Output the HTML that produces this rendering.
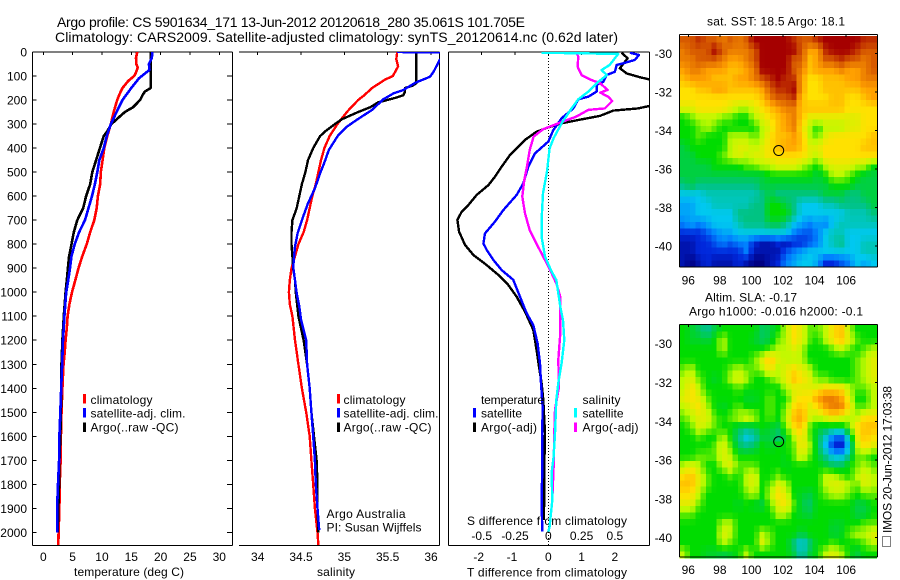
<!DOCTYPE html>
<html>
<head>
<meta charset="utf-8">
<title>Argo profile</title>
<style>
html,body{margin:0;padding:0;background:#fff;}
svg{display:block;}
text{font-family:"Liberation Sans",sans-serif;font-size:12px;fill:#000;}
</style>
</head>
<body>
<svg id="fig" xmlns="http://www.w3.org/2000/svg" width="900" height="580" viewBox="0 0 900 580">
<defs>
<clipPath id="clip-t"><rect x="32" y="52" width="200" height="493"/></clipPath>
<clipPath id="clip-s"><rect x="239" y="52" width="201" height="493"/></clipPath>
<clipPath id="clip-d"><rect x="448" y="52" width="202" height="493"/></clipPath>
</defs>
<text x="57" y="27" style="font-size:14px" textLength="468" lengthAdjust="spacing">Argo profile: CS 5901634_171 13-Jun-2012 20120618_280 35.061S 101.705E</text>
<text x="55" y="42" style="font-size:14px" textLength="563" lengthAdjust="spacing">Climatology: CARS2009. Satellite-adjusted climatology: synTS_20120614.nc (0.62d later)</text>
<text x="707" y="25.5" textLength="138">sat. SST: 18.5 Argo: 18.1</text>
<text x="705" y="301.5" textLength="92">Altim. SLA: -0.17</text>
<text x="689" y="315.5" textLength="174">Argo h1000: -0.016 h2000: -0.1</text>
<text x="74" y="576" textLength="110">temperature (deg C)</text>
<text x="317" y="576" textLength="38">salinity</text>
<text x="467" y="576.5" textLength="160">T difference from climatology</text>
<text x="467" y="525" textLength="160">S difference from climatology</text>
<text x="326.5" y="518" textLength="79">Argo Australia</text>
<text x="326.5" y="531.5" textLength="95">PI: Susan Wijffels</text>
<text x="0" y="0" transform="translate(891.5,533) rotate(-90)" textLength="147">IMOS 20-Jun-2012 17:03:38</text>
<rect x="882.5" y="536.5" width="8" height="10" fill="none" stroke="#000" stroke-width="1" stroke-dasharray="1 1"/>
</svg>
<script>
const depthTicks = [0,100,200,300,400,500,600,700,800,900,1000,1100,1200,1300,1400,1500,1600,1700,1800,1900,2000];
const tempTicks = [0,5,10,15,20,25,30];
const salTicks = [34,34.5,35,35.5,36];
const salTickLabels = ['34','34.5','35','35.5','36'];
const tDiffTicks = [-2,-1,0,1,2];
const sDiffTicks = [-0.5,-0.25,0,0.25,0.5];
const lonTicks = [96,98,100,102,104,106];
const latTicks = [30,32,34,36,38,40];

const tClimDepth = [0,25,50,65,85,100,120,150,175,200,250,300,350,400,450,500,550,600,650,700,750,800,850,900,950,1000,1050,1100,1150,1200,1250,1300,1400,1500,1600,1700,1800,1900,2000,2055];
const tClimValue = [16,15.8,15.85,16.1,15.8,15.5,14.5,13.5,13,12.6,12,11.5,10.9,10.4,10.1,9.8,9.7,9.3,9.1,8.7,8,7.4,6.65,6,5.45,4.9,4.45,4.15,4,3.8,3.65,3.45,3.25,3.1,3,2.95,2.8,2.75,2.6,2.55];
const tArgoDepth = [0,150,165,180,200,230,250,280,300,330,350,400,450,500,550,600,650,700,750,800,850,900,950,1000,1100,1200,1300,1400,1500,1600,1700,1800,1900,2000];
const tArgoValue = [18.3,18.3,17.3,16.9,16.5,15.3,13.9,12.5,11.6,10.9,10.3,9.65,9,8.35,8,7.3,6.8,5.8,5.2,4.8,4.4,4.2,4,3.8,3.5,3.25,3.1,3.05,3,2.9,2.75,2.7,2.55,2.45];
const tSatDepth = [0,25,50,75,90,110,150,180,200,250,300,350,400,450,500,550,600,650,700,750,800,850,900,950,1000,1100,1200,1300,1400,1500,1600,1700,1800,1900,2000];
const tSatValue = [18.6,18.5,18,18.1,17.3,16.3,15,14.1,13.5,12.5,11.5,10.8,10.3,9.55,9.2,8.8,8.3,7.7,7.1,6.1,5.35,4.8,4.55,4.25,3.9,3.6,3.35,3.2,3.05,2.9,2.75,2.7,2.5,2.35,2.35];

const sClimDepth = [0,30,60,80,100,115,150,180,200,230,250,300,350,400,450,500,550,600,650,700,750,800,850,900,950,1000,1050,1100,1200,1300,1400,1500,1600,1700,1800,1900,2000,2055];
const sClimValue = [35.61,35.6,35.62,35.59,35.56,35.47,35.32,35.23,35.16,35.08,35.03,34.92,34.83,34.77,34.73,34.7,34.67,34.63,34.6,34.57,34.53,34.47,34.43,34.39,34.37,34.36,34.37,34.4,34.43,34.47,34.51,34.56,34.6,34.62,34.64,34.66,34.69,34.7];
const sArgoDepth = [0,130,140,150,165,180,190,210,230,250,280,300,330,350,400,450,500,550,600,650,700,750,800,850,900,950,1000,1100,1200,1300,1400,1500,1600,1700,1800,1900,2000];
const sArgoValue = [35.83,35.83,35.79,35.7,35.7,35.68,35.6,35.39,35.3,35.16,34.97,34.89,34.78,34.72,34.64,34.58,34.55,34.51,34.48,34.45,34.4,34.39,34.39,34.4,34.41,34.43,34.44,34.47,34.53,34.57,34.6,34.62,34.65,34.68,34.69,34.69,34.7];
const sSatDepth = [0,3,20,33,82,103,128,158,172,197,241,283,311,346,408,450,505,568,630,700,755,810,894,950,1005,1060,1113,1200,1300,1400,1500,1600,1700,1800,1900,1990];
const sSatValue = [35.61,36.4,36.3,36.1,36.03,35.99,35.82,35.68,35.57,35.45,35.32,35.14,35.03,34.93,34.82,34.78,34.72,34.66,34.58,34.51,34.46,34.43,34.41,34.43,34.45,34.48,34.5,34.56,34.57,34.6,34.62,34.64,34.66,34.67,34.69,34.71];

const dTArgoDepth = [3,26,68,89,105,114,172,225,235,244,266,283,297,314,332,366,394,429,477,519,554,595,637,665,699,748,803,845,887,928,970,1019,1081,1157,1241,1310,1379,1449,1588,1726,1865,1948];
const dTArgoValue = [2.2,2.38,2.15,2.35,2.75,3.03,3.7,3.03,2.7,1.95,1.55,0.9,0.4,0,-0.35,-0.7,-0.9,-1.15,-1.4,-1.6,-1.8,-2.15,-2.4,-2.6,-2.73,-2.68,-2.5,-2.25,-1.85,-1.5,-1.2,-0.95,-0.7,-0.45,-0.35,-0.28,-0.2,-0.15,-0.1,-0.12,-0.12,-0.14];
const dTSatDepth = [3,12,33,47,54,82,96,124,137,165,186,197,235,276,325,373,422,477,547,595,658,706,755,797,824,866,908,949,1019,1088,1137,1213,1296,1379,1477,1588,1726,1865,1997];
const dTSatValue = [2.45,2.72,2.6,2.25,2.05,2,1.75,1.65,1.45,1.45,1.2,0.9,0.75,0.4,0.15,0,-0.4,-0.6,-0.75,-0.95,-1.35,-1.6,-1.9,-1.95,-1.85,-1.65,-1.4,-1.05,-0.85,-0.65,-0.45,-0.32,-0.25,-0.22,-0.17,-0.18,-0.18,-0.2,-0.18];
const dSArgoDepth = [3,19,61,96,117,130,158,169,186,204,235,241,269,297,322,352,408,477,533,602,672,741,797,866,921,963,1019,1171,1282,1393,1490,1588,1726,1865,1976];
const dSArgoValue = [0.21,0.225,0.22,0.25,0.325,0.39,0.445,0.39,0.45,0.48,0.425,0.3,0.21,0.075,-0.04,-0.11,-0.14,-0.16,-0.18,-0.195,-0.175,-0.14,-0.09,-0.025,0.025,0.06,0.09,0.09,0.075,0.08,0.05,0.045,0.04,0.03,0.01];
const dSSatDepth = [3,8,33,54,75,96,124,165,197,235,297,359,401,498,588,699,769,852,914,949,1060,1116,1199,1296,1379,1449,1588,1685,1754,1865,1976,1997];
const dSSatValue = [-0.05,0.525,0.49,0.46,0.4,0.44,0.375,0.3,0.225,0.175,0.1,0.04,0.01,-0.01,-0.04,-0.05,-0.05,-0.025,0.025,0.06,0.09,0.11,0.12,0.1,0.075,0.06,0.05,0.04,0.025,0.03,0.01,0];

const sstRows = [
[9,9,9.5,9,9,8.5,9,8.5,9,10,10,10,10,10,9.5,9,9,9.5,10,10,10,10,10,9.5,9.5],
[8.5,9,9,9,10,9,8.5,8.5,8.5,9,10,10,10,10,10,9,8,8,9.5,10,10,10,9.5,9,9],
[8.5,8.5,9,9,9,8.5,8,8,8.5,9,10,10,10,10,9,9,7.5,8,9,9,9.5,9,9,8.5,9],
[8,8.5,8.5,8,8,8,7.5,7.5,8,8.5,10,10,10,10,9,8.5,7.5,8,8,8,8.5,8,8,8.5,9],
[7.5,8,8,8,7.5,7.5,7.5,8,8,8.5,9,9.5,10,9.5,9.5,8,7,7,7.5,7.5,7.5,8,8,8.5,8.5],
[7,7,7.5,7.5,8,8,7.5,7.5,7.5,7.5,8,9,9.5,9.5,10,8,7,7,7.5,7.5,7.5,7.5,7.5,8,8],
[7,7,7,7,7,7,7,7,7,7,7.5,8.5,9,9,9.5,7.5,7,7,7,7.5,7.5,7,7,7.5,8],
[6.5,6.5,7,7,7,7,6.5,6,6,6.5,7,7.5,8,8.5,8.5,7.5,7.5,7.5,7.5,7.5,7.5,7,7,7,7],
[5,5.5,6,6,6,5.5,5.5,5,5,6,6.5,7,7.5,8,8.5,7.5,6.5,6.5,6.5,6.5,6.5,6.5,6.5,7,7],
[5,5,5.5,6,5.5,5,5,5,5,5,6,6.5,7.5,8,8.5,7,6,5,6,6,6,6.5,6.5,7,7],
[5,5,5.5,5,5,5,6,6,6,5.5,6,7,7.5,7.5,8,7.5,6,5.5,6.5,7,7,7,7,7,7.5],
[4.5,5,5,5,5,5,6,6.5,6.5,6,6.5,7,7.5,8,8,7.5,6.5,6.5,7,7,7,7,7,7.5,7.5],
[4.5,4.5,5,5,5,5.5,6,6.5,6,6.5,6.5,7,7,7,7,7,6.5,6,7,7,7,7,7,7,7],
[4.5,4.5,4.5,4.5,5,5,5,5,5.5,5.5,6,6,6.5,6.5,6.5,6,5.5,5,6,6.5,6.5,6.5,6,6,5],
[4.5,4.5,4.5,4.5,4.5,4.5,4.5,4.5,4.5,4.5,4.5,5,5,5,5,5,5,4.5,5,6,6,5.5,5,4.5,4.5],
[4,4.5,4,4,4,4,4,4,4,4,4.5,4.5,4.5,4.5,4.5,4.5,4.5,4.5,4.5,5,5,5,4.5,4.5,4.5],
[3,3,3,3.5,3.5,3.5,3.5,3.5,3.5,3.5,4,4.5,4,4,4,4,4,4,4.5,4.5,4.5,4,4,4.5,4.5],
[2.5,2.5,3,3,3.5,3.5,3.5,3.5,3.5,4,4,5,5,4.5,4,3,3,3,3.5,3.5,4,4,4,4,4.5],
[2.5,2.5,3,3,3,3,3,4,4,4,4,5,5,5,4,3,3,3,3,3,3,3.5,3.5,3.5,4],
[2,2.5,2,2.5,3,3,3,3.5,4,4,4,4.5,4.5,4,3,2.5,2,2.5,2,3,3.5,3.5,3.5,3.5,3.5],
[1,1,1,1.5,2,2.5,2.5,3,3,3,3,3,3,3,2,1.5,1.5,2,3,3.5,3.5,3,3,3,3],
[0.5,0.5,1,1,1.5,2,1.5,2,2,1,0.5,0.5,1,0.5,1,1,1.5,2,3,3.5,4,3,3,3.5,3.5],
[0.5,0.5,1,1,1,1,1,1,2,0.5,0.5,0.5,0.5,1.5,2,2.5,3,3,3,3,3,3,3,3.5,3.5],
[0.5,0,0.5,1,0.5,0.5,0.5,1,0.5,0,0,0.5,1,2,2.5,3,3,2.5,1,1,1.5,2,3,2.5,3]
];
const slaRows = [
[5,4.7,4.3,3.8,4.5,5,5,5,5,5,4.3,4.5,5,6,7,6.5,5.5,5.5,6,7,7.5,6,5,5,5],
[5,4.7,4.7,4.5,5,6,5,5,5,4.7,4.3,4.5,5.5,6,7,6.5,5.5,5,6,7,7.5,6.5,5.5,5,5],
[5,5,5,5,5,6,5,5,5,5,5,5.5,6,6,6.5,6,5,5,5,5.5,6,5.5,5,5.5,6],
[5,5,5,5,5,5,5,5,5,5.5,6.5,7.5,6.5,6,6,6,5,5,5,5,5,5,5.5,6,6.5],
[5.5,6,5,5,5,5,5.5,6,5.5,5.5,6,7,6,6.5,7,6.5,6,5,5,5,5,5,5.5,6,6.5],
[6,6.5,5.5,5,4.7,5,6,6.5,6,5,5,5.5,6,6.5,7.5,7,6.5,5.5,5.5,5,5,5,5.5,6,6.5],
[6,7,6,5,5,5,5,5.5,5,5,5,5,5,6,6.5,6.5,6.5,6.5,7,7,7,6,5.5,5.5,6],
[6.5,7,6.5,5.5,5,5,5,5,4.7,4.7,5,5.5,5,5,6.5,7,7,8,8.5,8.5,8,6.5,5,5,6],
[6,6.5,7,6,5,4.7,5,5.5,5,5,5,5.5,5,5.5,7,7.5,6.5,7,8,8.5,8.5,7,5.5,5.5,6],
[5.5,6,6.5,6.5,5.5,5,5.5,6,6.5,6,5,5.5,5,6,7.5,8,6.5,6,6.5,7,6.5,6,6,7,7],
[5,5.5,6.5,6,5.5,5,5,4.5,4.3,4.5,5,4.7,4.5,5.5,7,7.5,5.5,4.7,4.7,4.7,4.7,5.5,7,7.5,7.5],
[5,5,5.5,5,5,6,5,4,3,3.5,4.5,4.5,4,4.7,6,7,5.5,4.5,3.5,2,1.5,4,6.5,7.5,7],
[5,5,5,5,5.5,6.5,5.5,4.3,4,4.3,5,4.7,5,5,5.5,7,6,4.5,3,1,0.5,3,6,7,6.5],
[5,5,5.5,5.5,5.5,6.5,6,5,5,5,5,5,5,4.8,5.5,6.5,5.5,4.7,4,3,3,4,5.5,5.5,5],
[6,6.5,6,5,5,6,6.5,5.5,5.5,5.5,5,5,5,4.8,5,5,5,5,4.7,4.3,4.3,5,5.5,6,5.5],
[7,7.5,6.5,5.5,5,5,5.5,5,6,6.5,5,5,5.5,5,5,5,5,5,6,6,5.5,5,6,6.5,6],
[7.5,7.5,6.5,5.5,5,5,5,5,6,6.5,5,5.5,6.5,6,5,5,5,5,6,6.5,6.5,6,5.5,6.5,6],
[7,7,6,5,5,5,5,5,5.5,6,5,6,7,6.5,5,4.7,4.5,5,5.5,6,6,5.5,5,5.5,5.5],
[6.5,6.5,5.5,5,5,5,5,4.7,5,4.7,4.5,5.5,6.5,7,5.5,4.5,4.2,5,5,5,5,5,4.5,4.5,5],
[5.5,5.5,5,5,5,5,5,5,5,5,5,5,6,6,5,4.7,4.5,5,5,5,5,5,4.5,4.5,5],
[5,5,5,5,5,6,6,5,5,5,5,5,5,5,5,5,5,5,5,4.7,4.7,5,5,5.5,5.5],
[5,5,5,5,5,6.5,6,5,5,5,6,5.5,5,5,5,4.5,5,5,5,4.5,4.7,5.5,6,6,6.5],
[5,5,5,5,5,6,5.5,5,5,5,6.5,5.5,5,5,4,3,4,5,5,5.5,5,5,5,5.5,6],
[6,5,5,4.7,4.7,4.5,4.7,5,6,5,5,5,5,5,4.5,3.5,4.5,5,6,6.5,6,5,4.5,5,5]
];

const svgNS = 'http://www.w3.org/2000/svg';
const fig = document.getElementById('fig');
const yDepth = d => 52 + d * 0.2402;
const xTemp = t => 43.3 + t * 5.867;
const xSal = s => 257.7 + (s - 34) * 86.65;
const xTDiff = t => 548.3 + t * 33.3;
const xSDiff = s => 548.3 + s * 133.2;
const xLon = l => 688.3 + (l - 96) * 15.78;
const ySst = a => 53.3 + (a - 30) * 19.25;
const ySla = a => 343.7 + (a - 30) * 19.4;

function mk(tag, props) {
  const el = document.createElementNS(svgNS, tag);
  for (const k in props) el.setAttribute(k, props[k]);
  fig.appendChild(el);
  return el;
}
function seg(name, x1, y1, x2, y2) {
  const el = mk('line', {x1: x1, y1: y1, x2: x2, y2: y2, stroke: '#000', 'stroke-width': 1, 'shape-rendering': 'crispEdges'});
  
  
  return el;
}
function label(name, str, x, y, anchor, fit) {
  const el = mk('text', {x: x, y: y, 'text-anchor': anchor});
  if (fit) el.setAttribute('textLength', fit);
  el.textContent = str;
  
  
  return el;
}
function profile(name, depths, values, xf, color, width, clip) {
  const pts = depths.map((d, i) => xf(values[i]).toFixed(1) + ',' + yDepth(d).toFixed(1)).join(' ');
  const el = mk('polyline', {points: pts, fill: 'none', stroke: color, 'stroke-width': width, 'stroke-linejoin': 'round', 'clip-path': 'url(#' + clip + ')', 'shape-rendering': 'crispEdges'});
  
  
  return el;
}
function swatch(name, x, y, color) {
  const el = mk('rect', {x: x, y: y, width: 3, height: 9.5, fill: color, 'shape-rendering': 'crispEdges'});
  
  
  return el;
}
const stops = [[0,0,130],[0,40,220],[0,130,255],[0,200,240],[0,195,130],[0,220,0],[190,250,0],[255,225,0],[255,160,0],[215,90,0],[165,0,0]];
function colour(v) {
  const i = Math.min(9, Math.floor(v));
  const f = v - i;
  const c = stops[i].map((s, k) => Math.round(s + (stops[i + 1][k] - s) * f));
  return 'rgb(' + c.join(',') + ')';
}
/* Each map is painted on its 1/3-degree display grid, sampling the read-off rows. */
function sample(rows, r, c) {
  const nr = rows.length, nc = rows[0].length;
  const rr = Math.max(0, Math.min(nr - 1, r)), cc = Math.max(0, Math.min(nc - 1, c));
  const r0 = Math.min(nr - 2, Math.floor(rr)), c0 = Math.min(nc - 2, Math.floor(cc));
  const fr = rr - r0, fc = cc - c0;
  const top = rows[r0][c0] * (1 - fc) + rows[r0][c0 + 1] * fc;
  const bot = rows[r0 + 1][c0] * (1 - fc) + rows[r0 + 1][c0 + 1] * fc;
  return top * (1 - fr) + bot * fr;
}
function heatmap(name, rows, lon0, lat0, yf) {
  const nCols = 37, nRows = 36;
  const spanLon = rows[0].length * 0.5, spanLat = rows.length * 0.5;
  for (let j = 0; j < nRows; j++) {
    for (let i = 0; i < nCols; i++) {
      const x0 = xLon(lon0 + i * spanLon / nCols), x1 = xLon(lon0 + (i + 1) * spanLon / nCols);
      const y0 = yf(lat0 + j * spanLat / nRows), y1 = yf(lat0 + (j + 1) * spanLat / nRows);
      const v = sample(rows, (j + 0.5) / nRows * rows.length - 0.5, (i + 0.5) / nCols * rows[0].length - 0.5);
      const cell = mk('rect', {x: x0.toFixed(2), y: y0.toFixed(2), width: (x1 - x0 + 0.4).toFixed(2), height: (y1 - y0 + 0.4).toFixed(2), fill: colour(v), 'shape-rendering': 'crispEdges'});
      
      
    }
  }
}

/* Panel frames and depth axis */
seg('temperature-axis-top', 32.5, 52, 232.5, 52);
seg('temperature-axis-bottom', 32.5, 545.5, 232.5, 545.5);
seg('temperature-axis-left', 32.5, 52, 32.5, 545.5);
seg('temperature-axis-right', 232.5, 52, 232.5, 545.5);
seg('salinity-axis-top', 239, 52, 439.5, 52);
seg('salinity-axis-bottom', 239, 545.5, 439.5, 545.5);
seg('salinity-axis-right', 439.5, 52, 439.5, 545.5);
seg('difference-axis-top', 448.5, 52, 649.5, 52);
seg('difference-axis-bottom', 448.5, 545.5, 649.5, 545.5);
seg('difference-axis-left', 448.5, 52, 448.5, 545.5);
seg('difference-axis-right', 649.5, 52, 649.5, 545.5);

depthTicks.forEach(d => {
  seg('depth-tick-left', 32.5, yDepth(d), 36.5, yDepth(d));
  seg('depth-tick-right', 227, yDepth(d), 232.5, yDepth(d));
  label('depth-tick-label', String(d), 27, yDepth(d) + 4.5, 'end');
});
tempTicks.forEach(t => {
  seg('temperature-tick', xTemp(t), 52, xTemp(t), 55);
  label('temperature-tick-label', String(t), xTemp(t), 561, 'middle');
});
salTicks.forEach((s, i) => {
  seg('salinity-tick', xSal(s), 52, xSal(s), 55);
  label('salinity-tick-label', salTickLabels[i], xSal(s), 561, 'middle');
});
tDiffTicks.forEach(t => {
  seg('t-difference-tick', xTDiff(t), 52, xTDiff(t), 55);
  label('t-difference-tick-label', String(t), xTDiff(t) - (t < 0 ? 3 : 0), 561, 'middle');
});
sDiffTicks.forEach(s => {
  label('s-difference-tick-label', String(s), xSDiff(s), 540, 'middle');
});
const zero = mk('line', {x1: xTDiff(0), y1: 52, x2: xTDiff(0), y2: 545, stroke: '#000', 'stroke-width': 1, 'stroke-dasharray': '1 2', 'shape-rendering': 'crispEdges'});



/* Profiles */
profile('temperature-climatology-line', tClimDepth, tClimValue, xTemp, '#ff0000', 2.6, 'clip-t');
profile('temperature-argo-line', tArgoDepth, tArgoValue, xTemp, '#000000', 2.6, 'clip-t');
profile('temperature-satellite-line', tSatDepth, tSatValue, xTemp, '#0000ff', 2.6, 'clip-t');
profile('salinity-climatology-line', sClimDepth, sClimValue, xSal, '#ff0000', 2.4, 'clip-s');
profile('salinity-argo-line', sArgoDepth, sArgoValue, xSal, '#000000', 2.4, 'clip-s');
profile('salinity-satellite-line', sSatDepth, sSatValue, xSal, '#0000ff', 2.4, 'clip-s');
profile('t-difference-argo-line', dTArgoDepth, dTArgoValue, xTDiff, '#000000', 2.4, 'clip-d');
profile('t-difference-satellite-line', dTSatDepth, dTSatValue, xTDiff, '#0000ff', 2.4, 'clip-d');
profile('s-difference-argo-line', dSArgoDepth, dSArgoValue, xSDiff, '#ff00ff', 2.4, 'clip-d');
profile('s-difference-satellite-line', dSSatDepth, dSSatValue, xSDiff, '#00ffff', 2.4, 'clip-d');

/* Legends */
swatch('legend-swatch-climatology', 83, 394, '#ff0000');
swatch('legend-swatch-satellite', 83, 408, '#0000ff');
swatch('legend-swatch-argo', 83, 422.5, '#000000');
label('legend-entry-climatology', 'climatology', 90.5, 404, 'start', 62);
label('legend-entry-satellite', 'satellite-adj. clim.', 90.5, 417.5, 'start', 95);
label('legend-entry-argo', 'Argo(..raw -QC)', 90.5, 431.5, 'start', 88);
swatch('legend-swatch-climatology', 337, 394, '#ff0000');
swatch('legend-swatch-satellite', 337, 408, '#0000ff');
swatch('legend-swatch-argo', 337, 422.5, '#000000');
label('legend-entry-climatology', 'climatology', 343.5, 404, 'start', 62);
label('legend-entry-satellite', 'satellite-adj. clim.', 343.5, 417.5, 'start', 95);
label('legend-entry-argo', 'Argo(..raw -QC)', 343.5, 431.5, 'start', 88);
label('legend-heading-temperature', 'temperature', 481, 404, 'start', 63);
label('legend-entry-t-satellite', 'satellite', 481, 417.5, 'start', 41);
label('legend-entry-t-argo', 'Argo(-adj)', 481, 431.5, 'start', 56);
swatch('legend-swatch-t-satellite', 473, 408, '#0000ff');
swatch('legend-swatch-t-argo', 473, 422.5, '#000000');
label('legend-heading-salinity', 'salinity', 582.5, 404, 'start', 38);
label('legend-entry-s-satellite', 'satellite', 582.5, 417.5, 'start', 41);
label('legend-entry-s-argo', 'Argo(-adj)', 582.5, 431.5, 'start', 56);
swatch('legend-swatch-s-satellite', 574, 408, '#00ffff');
swatch('legend-swatch-s-argo', 574, 422.5, '#ff00ff');

/* Maps */
heatmap('sst-cell', sstRows, 95.43, 29.1, ySst);
heatmap('sla-cell', slaRows, 95.43, 29.04, ySla);

seg('sst-map-top', 679.5, 34.5, 877.5, 34.5);
seg('sst-map-bottom', 679.5, 267, 877.5, 267);
seg('sst-map-left', 679.5, 34.5, 679.5, 267);
seg('sst-map-right', 877.5, 34.5, 877.5, 267);
seg('sla-map-top', 679.5, 324.5, 877.5, 324.5);
seg('sla-map-bottom', 679.5, 557, 877.5, 557);
seg('sla-map-left', 679.5, 324.5, 679.5, 557);
seg('sla-map-right', 877.5, 324.5, 877.5, 557);

lonTicks.forEach(l => {
  seg('sst-lon-tick', xLon(l), 34.5, xLon(l), 37);
  seg('sla-lon-tick', xLon(l), 324.5, xLon(l), 327);
  label('sst-lon-tick-label', String(l), xLon(l), 284.5, 'middle');
  label('sla-lon-tick-label', String(l), xLon(l), 574, 'middle');
});
latTicks.forEach(a => {
  seg('sst-lat-tick', 875, ySst(a), 877.5, ySst(a));
  seg('sla-lat-tick', 875, ySla(a), 877.5, ySla(a));
  label('sst-lat-tick-label', '-' + a, 672, ySst(a) + 4.5, 'end');
  label('sla-lat-tick-label', '-' + a, 672, ySla(a) + 4.5, 'end');
});
const c1 = mk('circle', {cx: 778.7, cy: ySst(35.05), r: 5, fill: 'none', stroke: '#000', 'stroke-width': 1});


const c2 = mk('circle', {cx: 778.7, cy: ySla(35.05), r: 5, fill: 'none', stroke: '#000', 'stroke-width': 1});


</script>
</body>
</html>
